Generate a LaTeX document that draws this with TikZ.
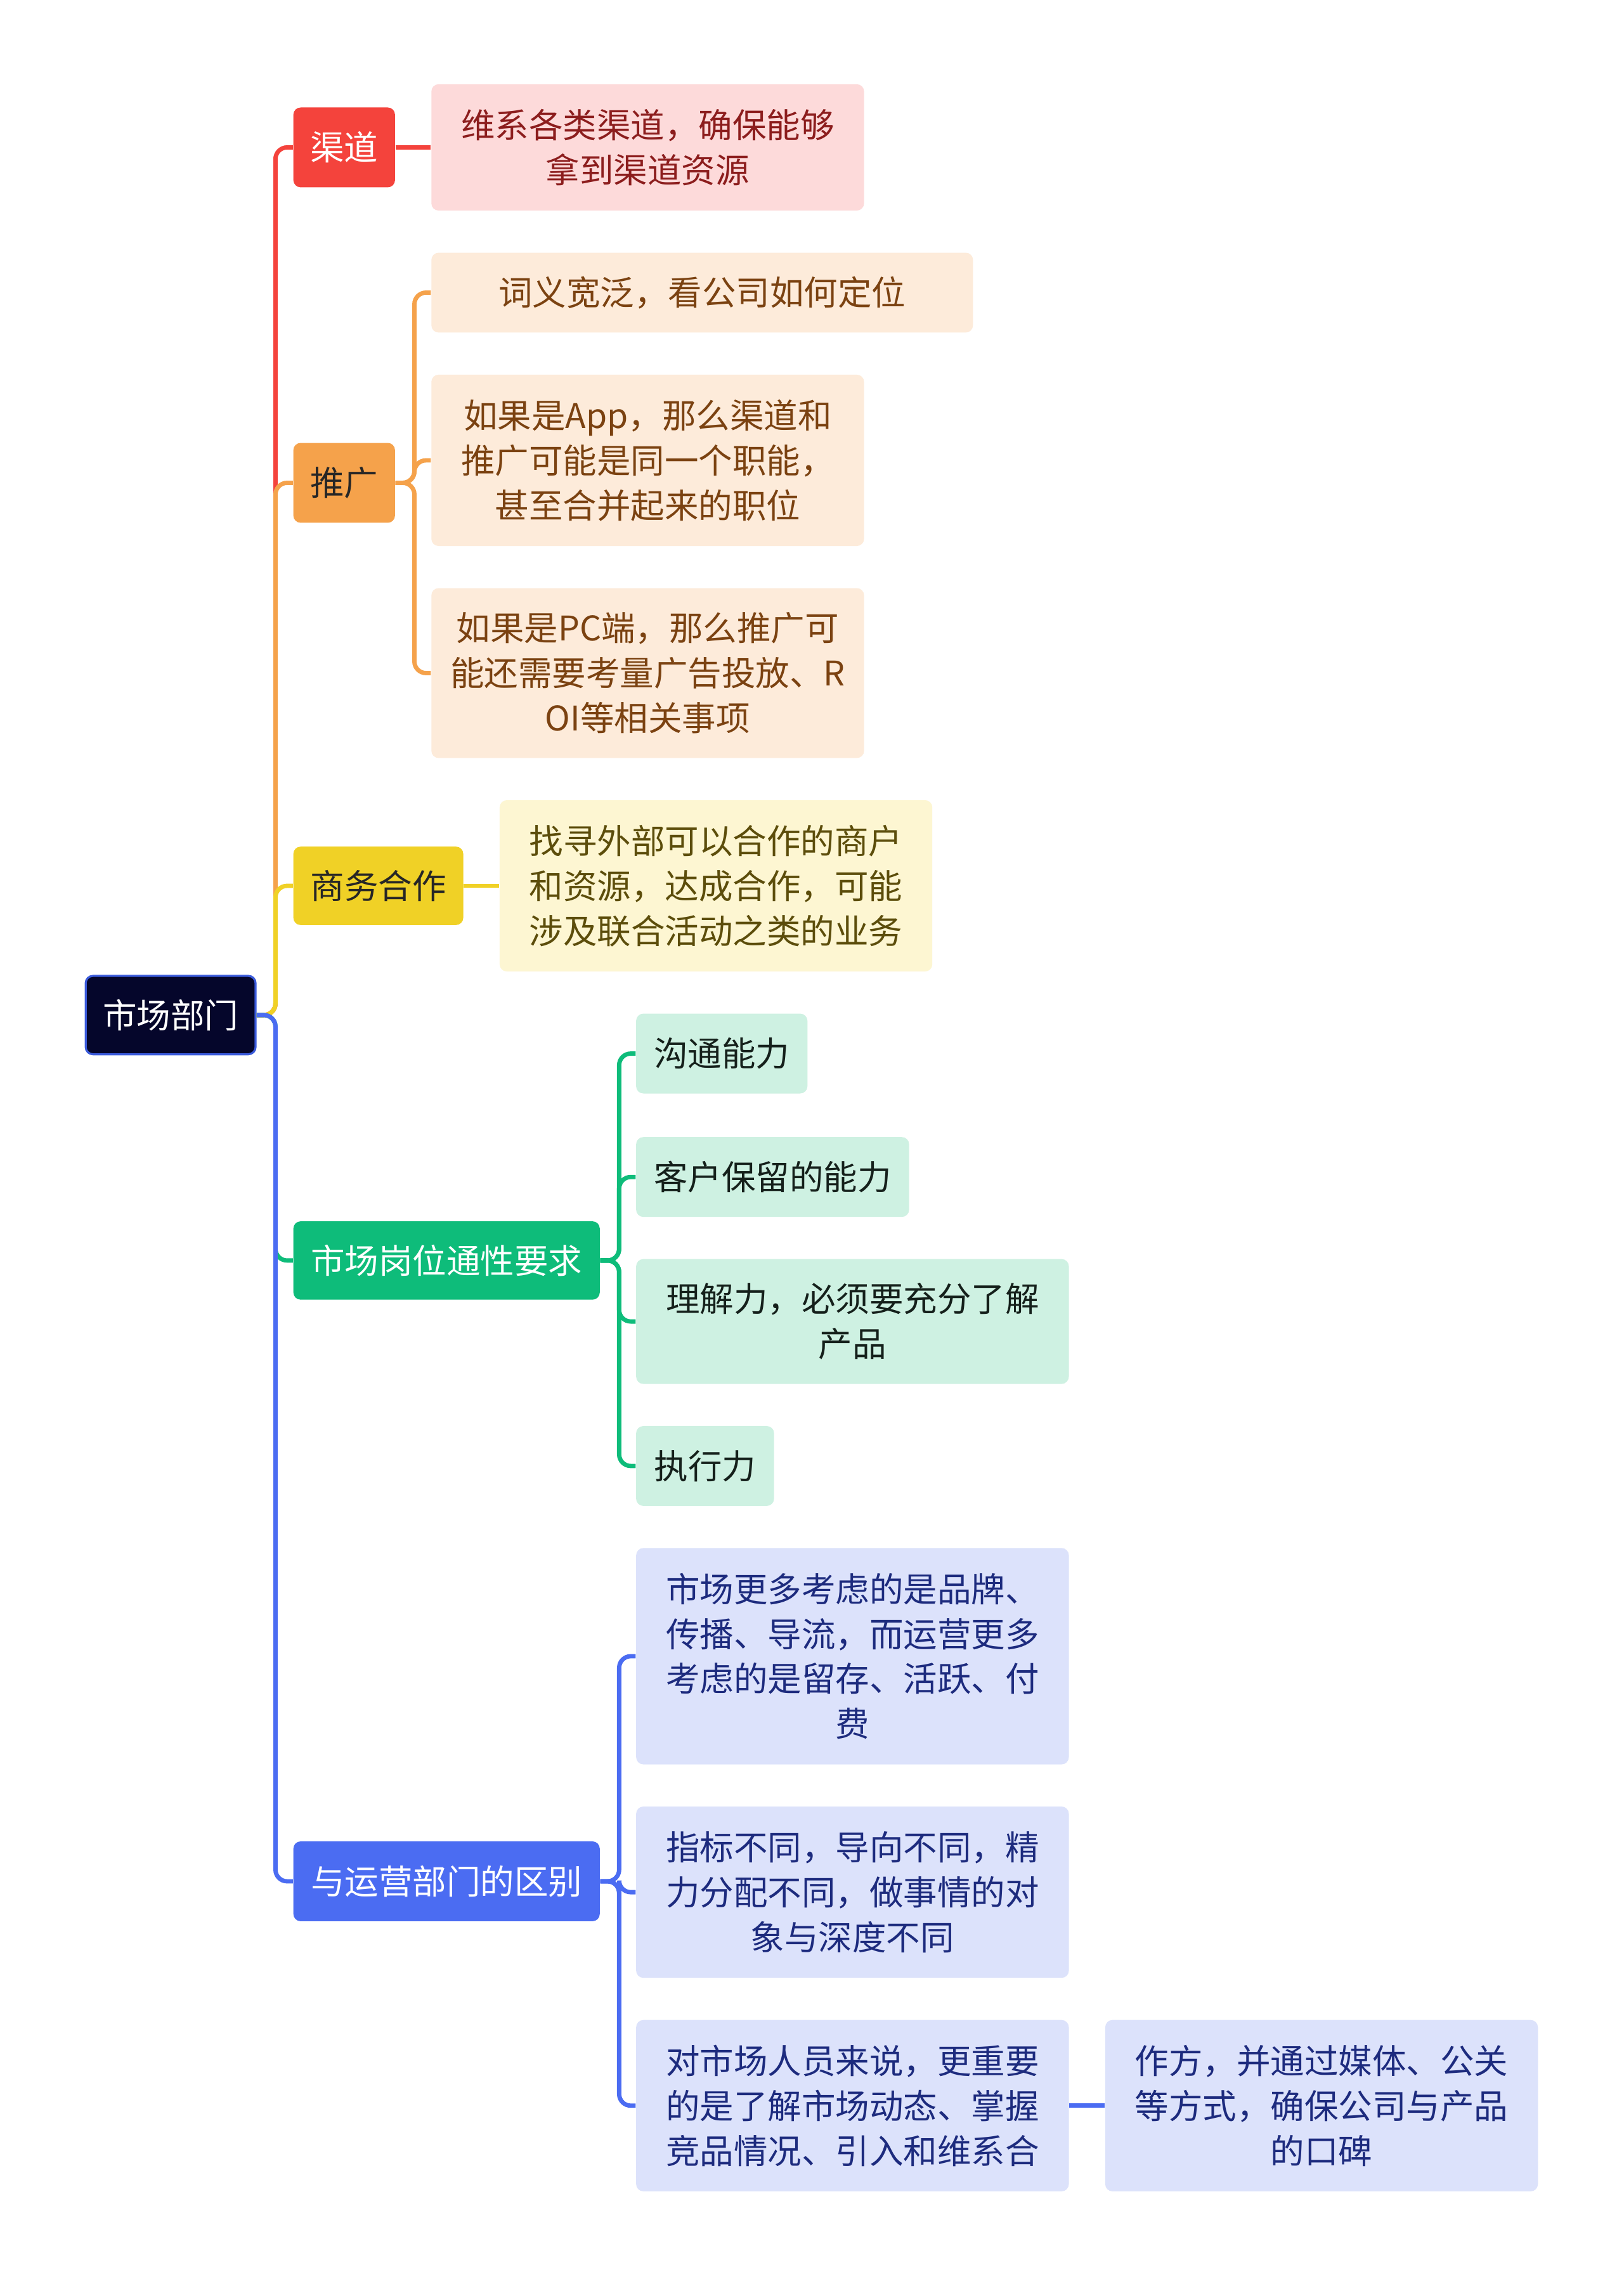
\documentclass[tikz,border=0pt]{standalone}
\usepackage{fontspec}
\setmainfont{Noto Sans CJK SC}
\definecolor{cR}{HTML}{F4433C}\definecolor{cRl}{HTML}{FDDADA}\definecolor{cRt}{HTML}{8C1D1D}
\definecolor{cO}{HTML}{F5A24B}\definecolor{cOl}{HTML}{FDEBDA}\definecolor{cOt}{HTML}{7B4211}
\definecolor{cY}{HTML}{F0D126}\definecolor{cYl}{HTML}{FDF6D2}\definecolor{cYt}{HTML}{5C4D0B}
\definecolor{cG}{HTML}{0EBC7A}\definecolor{cGl}{HTML}{CEF1E2}\definecolor{cGt}{HTML}{15201B}
\definecolor{cB}{HTML}{4B6CF2}\definecolor{cBl}{HTML}{DCE2FB}\definecolor{cBt}{HTML}{1D2B7E}
\definecolor{cRoot}{HTML}{05062B}\definecolor{cRootB}{HTML}{3B5BDB}
\begin{document}
\begin{tikzpicture}[x=0.02cm,y=-0.02cm,
  box/.style={rounded corners=0.1cm, inner sep=0pt, align=center,
    font=\fontsize{13.3}{17.6}\selectfont},
  conn/.style={line width=1.7pt, rounded corners=0.16cm},
  lR/.style={box, fill=cRl, text=cRt},
  lO/.style={box, fill=cOl, text=cOt},
  lY/.style={box, fill=cYl, text=cYt},
  lG/.style={box, fill=cGl, text=cGt},
  lB/.style={box, fill=cBl, text=cBt}]
\useasboundingbox[fill=white] (0,0) rectangle (1118,1568);

% root
\node[box, fill=cRoot, draw=cRootB, line width=0.8pt, text=white, minimum width=2.34cm, minimum height=1.08cm] (root) at (117.5,699) {市场部门};

% level 1
\node[box, fill=cR, text=white, minimum width=1.40cm, minimum height=1.10cm] (qd) at (237,101.5) {渠道};
\node[box, fill=cO, text=black!85, minimum width=1.40cm, minimum height=1.10cm] (tg) at (237,332.5) {推广};
\node[box, fill=cY, text=black!85, minimum width=2.34cm, minimum height=1.08cm] (sw) at (260.5,610) {商务合作};
\node[box, fill=cG, text=white, minimum width=4.22cm, minimum height=1.08cm] (sc) at (307.5,868) {市场岗位通性要求};
\node[box, fill=cB, text=white, minimum width=4.22cm, minimum height=1.10cm] (yy) at (307.5,1295.5) {与运营部门的区别};

% level 2
\node[lR, minimum width=5.96cm, minimum height=1.74cm] (c1) at (446,101.5) {维系各类渠道，确保能够\\拿到渠道资源};
\node[lO, minimum width=7.46cm, minimum height=1.10cm] (t1) at (483.5,201.5) {词义宽泛，看公司如何定位};
\node[lO, minimum width=5.96cm, minimum height=2.36cm] (t2) at (446,317) {如果是App，那么渠道和\\推广可能是同一个职能，\\甚至合并起来的职位};
\node[lO, minimum width=5.96cm, minimum height=2.34cm] (t3) at (446,463.5) {如果是PC端，那么推广可\\能还需要考量广告投放、R\\OI等相关事项};
\node[lY, minimum width=5.96cm, minimum height=2.36cm] (s1) at (493,610) {找寻外部可以合作的商户\\和资源，达成合作，可能\\涉及联合活动之类的业务};
\node[lG, minimum width=2.36cm, minimum height=1.10cm] (g1) at (497,725.5) {沟通能力};
\node[lG, minimum width=3.76cm, minimum height=1.10cm] (g2) at (532,810.5) {客户保留的能力};
\node[lG, minimum width=5.96cm, minimum height=1.72cm] (g3) at (587,910) {理解力，必须要充分了解\\产品};
\node[lG, minimum width=1.90cm, minimum height=1.10cm] (g4) at (485.5,1009.5) {执行力};
\node[lB, minimum width=5.96cm, minimum height=2.98cm] (b1) at (587,1140.5) {市场更多考虑的是品牌、\\传播、导流，而运营更多\\考虑的是留存、活跃、付\\费};
\node[lB, minimum width=5.96cm, minimum height=2.36cm] (b2) at (587,1303) {指标不同，导向不同，精\\力分配不同，做事情的对\\象与深度不同};
\node[lB, minimum width=5.96cm, minimum height=2.36cm] (b3) at (587,1450) {对市场人员来说，更重要\\的是了解市场动态、掌握\\竞品情况、引入和维系合};
\node[lB, minimum width=5.96cm, minimum height=2.36cm] (b4) at (910,1450) {作方，并通过媒体、公关\\等方式，确保公司与产品\\的口碑};

% connectors from root
\draw[conn, cR] (root.east) -- ++(13,0) |- (qd.west);
\draw[conn, cO] (root.east) -- ++(13,0) |- (tg.west);
\draw[conn, cY] (root.east) -- ++(13,0) |- (sw.west);
\draw[conn, cG] (root.east) -- ++(13,0) |- (sc.west);
\draw[conn, cB] (root.east) -- ++(13,0) |- (yy.west);

% level 2 connectors
\draw[conn, cR] (qd.east) -- (c1.west);
\draw[conn, cO] (tg.east) -- ++(13,0) |- (t1.west);
\draw[conn, cO] (tg.east) -- ++(13,0) |- (t2.west);
\draw[conn, cO] (tg.east) -- ++(13,0) |- (t3.west);
\draw[conn, cY] (sw.east) -- (s1.west);
\draw[conn, cG] (sc.east) -- ++(13,0) |- (g1.west);
\draw[conn, cG] (sc.east) -- ++(13,0) |- (g2.west);
\draw[conn, cG] (sc.east) -- ++(13,0) |- (g3.west);
\draw[conn, cG] (sc.east) -- ++(13,0) |- (g4.west);
\draw[conn, cB] (yy.east) -- ++(13,0) |- (b1.west);
\draw[conn, cB] (yy.east) -- ++(13,0) |- (b2.west);
\draw[conn, cB] (yy.east) -- ++(13,0) |- (b3.west);
\draw[conn, cB] (b3.east) -- (b4.west);
\end{tikzpicture}
\end{document}
